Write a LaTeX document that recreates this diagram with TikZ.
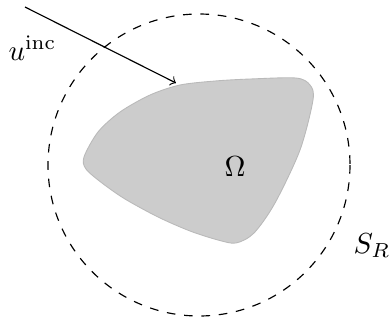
\documentclass[tikz,border=0pt]{standalone}
\begin{document}
\begin{tikzpicture}[x=0.345pt,y=-0.345pt,
  scatterer/.style={fill=gray!40, draw=gray!55, line width=0.3pt},
  farfield/.style={dashed, line width=0.4pt},
  incident/.style={-to, line width=0.4pt},
  lbl/.style={inner sep=0pt}]
\useasboundingbox (0,0) rectangle (390,320);
\draw[farfield] (199,165) circle[radius=151];
\def\shapepts{(84,157) (98,132) (120,112) (150,95) (180,85) (215,81) (250,79) (296,78) (310,85) (313,100)
  (300,150) (275,203) (254,233) (236,243) (218,240) (190,231) (158,217) (125,199) (102,183) (86,169)}
\path[scatterer] plot[smooth cycle, tension=0.5] coordinates {\shapepts};
\node[lbl] (omega) at (235,167) {$\Omega$};
\node[lbl, anchor=base west] (uinc) at (8,60) {$u^{\mathrm{inc}}$};
\node[lbl, anchor=base west] (sr) at (353,253) {$S_R$};
\coordinate (src) at (25,7);
\coordinate (hit) at (176,83);
\draw[incident] (src) -- (hit);
\end{tikzpicture}
\end{document}
